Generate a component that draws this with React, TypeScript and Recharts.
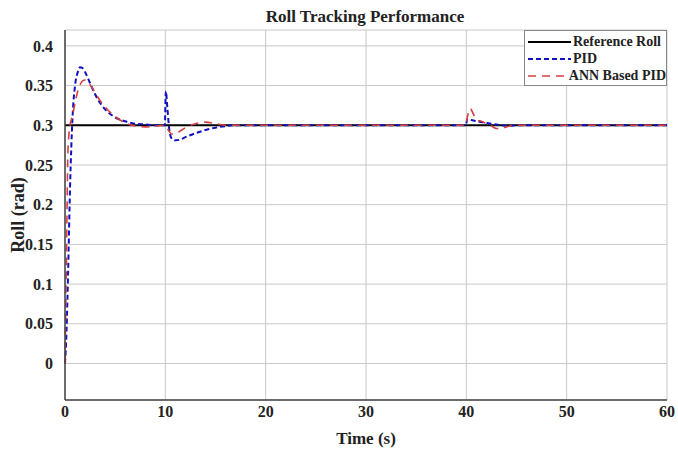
import React from 'react';
import { LineChart, Line, XAxis, YAxis, CartesianGrid, Legend } from 'recharts';

// time samples (s), denser around the transients
const times = [
  0, 0.15, 0.3, 0.5, 0.75, 1, 1.25, 1.5, 1.75, 2, 2.5, 3, 3.5, 4, 5, 6, 7, 8, 9, 9.95,
  10.05, 10.2, 10.4, 10.6, 11, 11.5, 12, 13, 14, 15, 16, 17, 18, 20, 30, 39.95, 40.1, 40.4,
  40.7, 41, 41.5, 42, 42.5, 43, 43.5, 44, 45, 46, 50, 60,
];

const referenceRoll = times.map(() => 0.3);

const pidRoll = [
  0, 0.04, 0.11, 0.22, 0.31, 0.35, 0.366, 0.373, 0.372, 0.367, 0.353, 0.339, 0.328, 0.32, 0.31,
  0.305, 0.302, 0.301, 0.3, 0.3, 0.343, 0.322, 0.294, 0.284, 0.281, 0.282, 0.285, 0.29, 0.294,
  0.297, 0.299, 0.3, 0.3, 0.3, 0.3, 0.3, 0.308, 0.307, 0.306, 0.305, 0.304, 0.303, 0.302, 0.301,
  0.3, 0.299, 0.3, 0.3, 0.3, 0.3,
];

const annPidRoll = [
  0, 0.14, 0.27, 0.3, 0.312, 0.328, 0.342, 0.351, 0.356, 0.357, 0.351, 0.341, 0.331, 0.323, 0.311,
  0.303, 0.299, 0.298, 0.299, 0.3, 0.299, 0.296, 0.292, 0.289, 0.289, 0.293, 0.297, 0.302, 0.304,
  0.302, 0.3, 0.3, 0.3, 0.3, 0.3, 0.3, 0.31, 0.321, 0.314, 0.307, 0.305, 0.302, 0.299, 0.296,
  0.296, 0.298, 0.3, 0.3, 0.3, 0.3,
];

const xTicks = [0, 10, 20, 30, 40, 50, 60];
const yTicks = [0, 0.05, 0.1, 0.15, 0.2, 0.25, 0.3, 0.35, 0.4];

const data = times.map((t, i) => ({
  t,
  ref: referenceRoll[i],
  pid: pidRoll[i],
  ann: annPidRoll[i],
}));

const font = '"Liberation Serif", "Times New Roman", serif';
const tickStyle = { fontFamily: font, fontWeight: 700, fontSize: 16, fill: '#222' };

function LegendBox() {
  const items = [
    { label: 'Reference Roll', color: '#000', dash: undefined, w: 2 },
    { label: 'PID', color: '#1010c0', dash: '5 3', w: 2 },
    { label: 'ANN Based PID', color: '#d84040', dash: '8 6', w: 1.5 },
  ];
  return (
    <div
      style={{
        position: 'absolute',
        left: 524,
        top: 30,
        width: 143,
        height: 56,
        border: '1px solid #888',
        background: '#fff',
        fontFamily: font,
        fontWeight: 700,
        fontSize: 14,
        color: '#222',
        boxSizing: 'border-box',
        padding: '2px 0 0 3px',
      }}
    >
      {items.map((it) => (
        <div key={it.label} style={{ display: 'flex', alignItems: 'center', height: 17 }}>
          <svg width={43} height={10} style={{ marginRight: 2 }}>
            <line x1={0} y1={5} x2={43} y2={5} stroke={it.color} strokeWidth={it.w} strokeDasharray={it.dash} />
          </svg>
          <span style={{ whiteSpace: 'nowrap' }}>{it.label}</span>
        </div>
      ))}
    </div>
  );
}

export default function App() {
  return (
    <div style={{ position: 'absolute', left: 0, top: 0, width: 678, height: 457, background: '#fff' }}>
      <div
        style={{
          position: 'absolute',
          left: 0,
          top: 7,
          width: 730,
          textAlign: 'center',
          fontFamily: font,
          fontWeight: 700,
          fontSize: 17,
          color: '#222',
        }}
      >
        Roll Tracking Performance
      </div>
      <LineChart width={678} height={457} data={data} margin={{ top: 30, right: 11, bottom: 0, left: 0 }}>
        <CartesianGrid xAxisId="main" yAxisId="main" stroke="#c8c8c8" strokeWidth={1} />
        <XAxis
          xAxisId="main"
          dataKey="t"
          type="number"
          domain={[0, 60]}
          ticks={xTicks}
          tick={tickStyle}
          tickLine={false}
          axisLine={{ stroke: '#444', strokeWidth: 1.5 }}
          height={57}
          tickMargin={0}
          label={{ value: 'Time (s)', position: 'insideBottom', offset: 13, style: { ...tickStyle, fontSize: 17 } }}
        />
        <XAxis xAxisId="top" orientation="top" dataKey="t" type="number" domain={[0, 60]} height={0} tick={false} tickLine={false} axisLine={{ stroke: '#444', strokeWidth: 1.5 }} />
        <YAxis
          yAxisId="main"
          type="number"
          domain={[-0.046, 0.42]}
          ticks={yTicks}
          tick={tickStyle}
          tickLine={false}
          tickFormatter={(v: number) => String(v)}
          axisLine={{ stroke: '#444', strokeWidth: 1.5 }}
          width={65}
          tickMargin={6}
          label={{ value: 'Roll (rad)', angle: -90, position: 'insideLeft', offset: 18, style: { ...tickStyle, fontSize: 18, textAnchor: 'middle' } }}
        />
        <YAxis yAxisId="right" orientation="right" type="number" domain={[-0.046, 0.42]} width={0} tick={false} tickLine={false} axisLine={{ stroke: '#444', strokeWidth: 1.5 }} />
        <Line xAxisId="main" yAxisId="main" dataKey="ref" stroke="#000" strokeWidth={2} dot={false} isAnimationActive={false} />
        <Line xAxisId="main" yAxisId="main" dataKey="pid" type="monotone" stroke="#1010c0" strokeWidth={2} strokeDasharray="5 3" dot={false} isAnimationActive={false} />
        <Line xAxisId="main" yAxisId="main" dataKey="ann" type="monotone" stroke="#d84040" strokeWidth={1.6} strokeDasharray="8 6" dot={false} isAnimationActive={false} />
        <Legend content={() => null} />
      </LineChart>
      <LegendBox />
    </div>
  );
}
